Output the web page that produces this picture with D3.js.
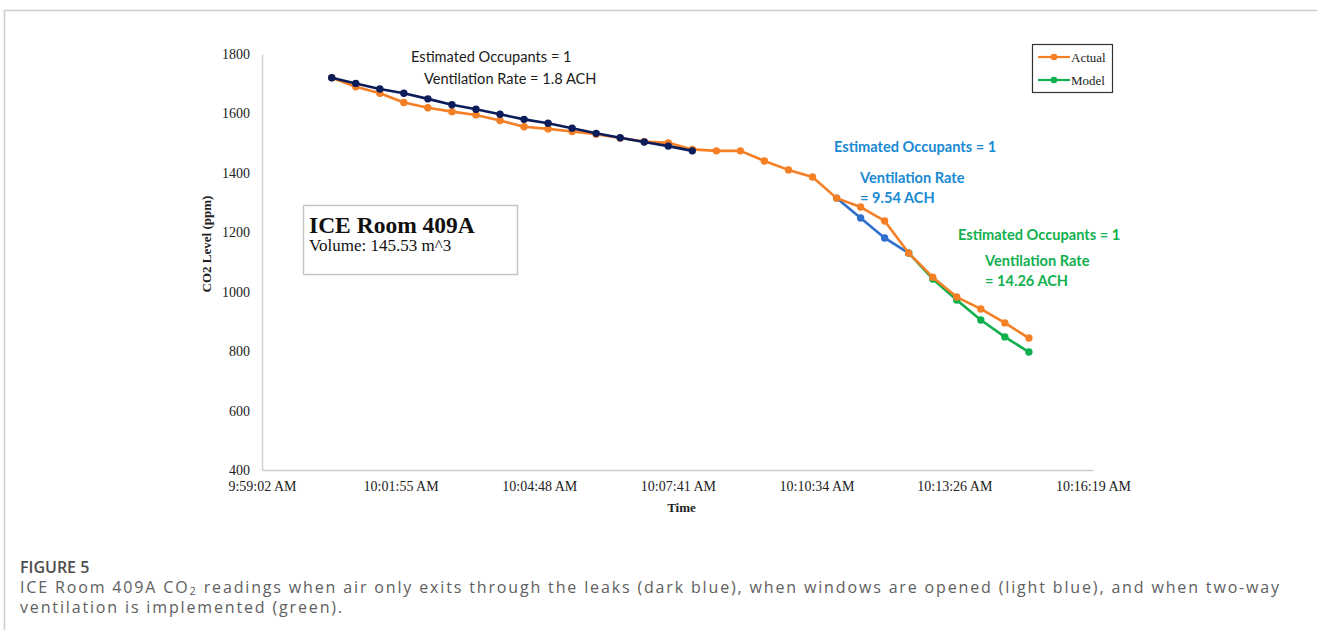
<!DOCTYPE html>
<html>
<head>
<meta charset="utf-8">
<script src="https://cdn.jsdelivr.net/npm/d3@7"></script>
<style>
  html, body { margin: 0; padding: 0; background: #fff; }
  svg { display: block; }
</style>
</head>
<body>
<svg id="chart" width="1317" height="630"></svg>
<script>
// CO2 readings, one every 30 seconds
const readingTimes = [
  "10:00:29","10:00:59","10:01:29","10:01:59","10:02:29","10:02:59",
  "10:03:29","10:03:59","10:04:29","10:04:59","10:05:29","10:05:59",
  "10:06:29","10:06:59","10:07:29","10:07:59","10:08:29","10:08:59",
  "10:09:29","10:09:59","10:10:29","10:10:59","10:11:29","10:11:59",
  "10:12:29","10:12:59","10:13:29","10:13:59","10:14:29","10:14:59"
];
const actualPpm = [
  1720,1690,1668,1637,1619,1606,1595,1576,1555,1548,1539,1530,
  1517,1505,1501,1479,1474,1474,1440,1410,1386,1315,1285,1238,
  1130,1049,982,942,895,844
];
// Model: air leaving through leaks only (1.8 ACH)
const leakTimes = readingTimes.slice(0, 16);
const leakPpm = [1720,1701,1682,1668,1649,1629,1614,1597,1580,1567,1550,1533,1518,1504,1490,1474];
// Model: windows opened (9.54 ACH)
const windowTimes = readingTimes.slice(21, 25);
const windowPpm = [1315,1248,1181,1130];
// Model: two-way ventilation (14.26 ACH)
const twoWayTimes = readingTimes.slice(24, 30);
const twoWayPpm = [1130,1043,972,905,848,797];

const xTickLabels = ["9:59:02 AM","10:01:55 AM","10:04:48 AM","10:07:41 AM","10:10:34 AM","10:13:26 AM","10:16:19 AM"];
const yTicks = [400,600,800,1000,1200,1400,1600,1800];

const COLORS = { actual: "#f47f25", leak: "#0b1d5a", window: "#2f6fcc", twoWay: "#10b04e",
                 textBlue: "#1a8ad4", textGreen: "#12b04f" };

const parseClock = d3.timeParse("%H:%M:%S");
const parseTick = d3.timeParse("%I:%M:%S %p");

const svg = d3.select("#chart");
const plot = { left: 262, right: 1093, top: 54, bottom: 470 };

// outer figure frame
svg.append("path")
  .attr("d", "M4.5,630 V10.5 H1317")
  .attr("fill", "none").attr("stroke", "#cdcdcd").attr("stroke-width", 1.6);

const tickDates = xTickLabels.map(parseTick);
const x = d3.scaleTime()
  .domain([tickDates[0], tickDates[tickDates.length - 1]])
  .range([plot.left, plot.right]);
const y = d3.scaleLinear().domain([400, 1800]).range([plot.bottom, plot.top]);

// axes
const xAxis = svg.append("g")
  .attr("transform", `translate(0,${plot.bottom})`)
  .call(d3.axisBottom(x).tickValues(tickDates).tickSize(0).tickPadding(11)
        .tickFormat((d, i) => xTickLabels[i]));
const yAxis = svg.append("g")
  .attr("transform", `translate(${plot.left},0)`)
  .call(d3.axisLeft(y).tickValues(yTicks).tickSize(0).tickPadding(12).tickFormat(d3.format("d")));
[xAxis, yAxis].forEach(g => {
  g.select(".domain").attr("stroke", "#cfcfcf").attr("stroke-width", 1.4);
  g.selectAll("text").attr("font-family", "Liberation Serif, serif")
    .attr("font-size", 14).attr("fill", "#222");
});

svg.append("text")
  .attr("x", (plot.left + plot.right) / 2 + 4).attr("y", 512)
  .attr("text-anchor", "middle")
  .attr("font-family", "Liberation Serif, serif").attr("font-size", 13).attr("font-weight", "bold")
  .attr("fill", "#222").text("Time");
svg.append("text")
  .attr("transform", "translate(211,244) rotate(-90)")
  .attr("text-anchor", "middle")
  .attr("font-family", "Liberation Serif, serif").attr("font-size", 13).attr("font-weight", "bold")
  .attr("fill", "#222").text("CO2 Level (ppm)");

// series
const line = d3.line().x(d => x(d.t)).y(d => y(d.v));
function drawSeries(times, values, color) {
  const pts = times.map((t, i) => ({ t: parseClock(t), v: values[i] }));
  // put readings on the same calendar day as the tick dates
  pts.forEach(p => p.t.setFullYear(tickDates[0].getFullYear(), tickDates[0].getMonth(), tickDates[0].getDate()));
  const g = svg.append("g");
  g.append("path").datum(pts).attr("d", line)
    .attr("fill", "none").attr("stroke", color).attr("stroke-width", 2.6)
    .attr("stroke-linejoin", "round");
  g.selectAll("circle").data(pts).join("circle")
    .attr("cx", d => x(d.t)).attr("cy", d => y(d.v)).attr("r", 3.7).attr("fill", color);
}
drawSeries(windowTimes, windowPpm, COLORS.window);
drawSeries(twoWayTimes, twoWayPpm, COLORS.twoWay);
drawSeries(readingTimes, actualPpm, COLORS.actual);
drawSeries(leakTimes, leakPpm, COLORS.leak);

// annotations
function note(txt, xPos, yPos, color, weight) {
  svg.append("text").attr("x", xPos).attr("y", yPos).attr("dy", "0.35em")
    .attr("font-family", "Lato, sans-serif").attr("font-size", 14.6)
    .attr("font-weight", weight).attr("fill", color).text(txt);
}
note("Estimated Occupants = 1", 411, 57, "#1a1a1a", "normal");
note("Ventilation Rate = 1.8 ACH", 424, 79, "#1a1a1a", "normal");
note("Estimated Occupants = 1", 834, 147, COLORS.textBlue, "bold");
note("Ventilation Rate", 860, 178, COLORS.textBlue, "bold");
note("= 9.54 ACH", 860, 198, COLORS.textBlue, "bold");
note("Estimated Occupants = 1", 958, 235, COLORS.textGreen, "bold");
note("Ventilation Rate", 985, 261, COLORS.textGreen, "bold");
note("= 14.26 ACH", 985, 281, COLORS.textGreen, "bold");

// room info box
svg.append("rect").attr("x", 303.5).attr("y", 205.5).attr("width", 214).attr("height", 69)
  .attr("fill", "#fff").attr("stroke", "#c4c4c4").attr("stroke-width", 1.4);
svg.append("text").attr("x", 309).attr("y", 233)
  .attr("font-family", "Liberation Serif, serif").attr("font-size", 23.5).attr("font-weight", "bold")
  .attr("fill", "#111").text("ICE Room 409A");
svg.append("text").attr("x", 309).attr("y", 251)
  .attr("font-family", "Liberation Serif, serif").attr("font-size", 17)
  .attr("fill", "#111").text("Volume: 145.53 m^3");

// legend
const legend = svg.append("g");
legend.append("rect").attr("x", 1032.5).attr("y", 44.5).attr("width", 80).attr("height", 48)
  .attr("fill", "#fff").attr("stroke", "#333").attr("stroke-width", 1.2);
[{ name: "Actual", color: COLORS.actual, cy: 57 }, { name: "Model", color: COLORS.twoWay, cy: 80 }]
  .forEach(e => {
    legend.append("line").attr("x1", 1038).attr("x2", 1070).attr("y1", e.cy).attr("y2", e.cy)
      .attr("stroke", e.color).attr("stroke-width", 2.2);
    legend.append("circle").attr("cx", 1054).attr("cy", e.cy).attr("r", 3.3).attr("fill", e.color);
    legend.append("text").attr("x", 1071).attr("y", e.cy).attr("dy", "0.35em")
      .attr("font-family", "Liberation Serif, serif").attr("font-size", 13)
      .attr("fill", "#222").text(e.name);
  });

// caption
const cap = svg.append("g").attr("font-family", "Open Sans, sans-serif").attr("fill", "#606060");
cap.append("text").attr("x", 20).attr("y", 573).attr("font-size", 16).attr("font-weight", 600)
  .attr("fill", "#4d4d4d").text("FIGURE 5");
const line1 = cap.append("text").attr("x", 20).attr("y", 593).attr("font-size", 16)
  .attr("letter-spacing", 1.85);
line1.append("tspan").text("ICE Room 409A CO");
line1.append("tspan").attr("font-size", 11).attr("dy", 2).text("2");
line1.append("tspan").attr("dy", -2)
  .text(" readings when air only exits through the leaks (dark blue), when windows are opened (light blue), and when two-way");
cap.append("text").attr("x", 20).attr("y", 613).attr("font-size", 16).attr("letter-spacing", 1.85)
  .text("ventilation is implemented (green).");
</script>
</body>
</html>
